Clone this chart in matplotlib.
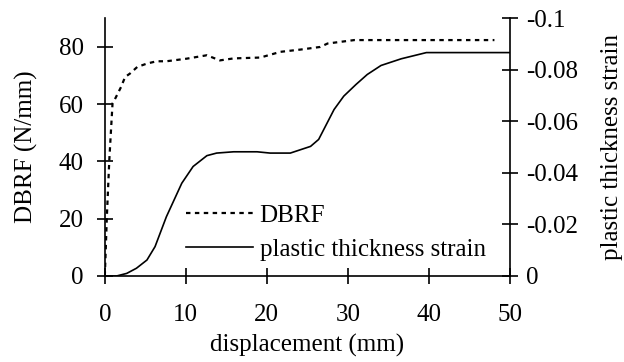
import matplotlib
matplotlib.use("Agg")
import matplotlib.pyplot as plt

# DBRF (left axis, N/mm) vs displacement (mm)
dbrf_x = [0, 0.25, 0.55, 0.95, 1.2, 2.0, 2.5, 3.1, 4.0, 5.2, 6.4, 7.6, 10.1,
          12.6, 14.2, 15.9, 19.2, 21.7, 24.2, 26.6, 27.5, 30.8, 48.1]
dbrf_y = [0, 20.7, 40.4, 60.3, 61.5, 66, 69.5, 70.7, 73, 74.2, 75, 75, 75.9,
          77.1, 75.3, 76, 76.3, 78.3, 79.1, 80, 81.2, 82.4, 82.4]

# plastic thickness strain (right axis)
strain_x = [0, 1.45, 2.7, 3.9, 5.2, 6.2, 7.6, 9.5, 10.9, 12.6, 13.8, 15.9,
            18.8, 20.4, 22.9, 25.4, 26.4, 28.3, 29.5, 31.0, 32.4, 34.1, 36.6,
            39.7, 50]
strain_y = [0, 0, -0.001, -0.003, -0.0062, -0.0114, -0.023, -0.036, -0.0425,
            -0.0467, -0.0477, -0.0482, -0.0482, -0.0477, -0.0477, -0.0503,
            -0.053, -0.0646, -0.0698, -0.0743, -0.0782, -0.0817, -0.0843,
            -0.0867, -0.0867]

left_ticks = [0, 20, 40, 60, 80]
right_ticks = [0, -0.02, -0.04, -0.06, -0.08, -0.1]
right_labels = ["0", "-0.02", "-0.04", "-0.06", "-0.08", "-0.1"]
x_ticks = [0, 10, 20, 30, 40, 50]

plt.rcParams["font.family"] = ["Liberation Serif", "DejaVu Serif"]
plt.rcParams["font.size"] = 18

fig = plt.figure(figsize=(6.24, 3.62), dpi=100)
ax = fig.add_axes([0.168, 0.2376, 0.649, 0.7118])
ax2 = ax.twinx()

l1, = ax.plot(dbrf_x, dbrf_y, color="black", linewidth=1.6,
              linestyle=(0, (2, 2)), label="DBRF")
l2, = ax2.plot(strain_x, strain_y, color="black", linewidth=1.2,
               label="plastic thickness strain")

ax.set_xlim(0, 50)
ax.set_ylim(0, 90)
ax.set_xticks(x_ticks)
ax.set_yticks(left_ticks)
ax2.set_ylim(0, -0.1)
ax2.set_yticks(right_ticks)
ax2.set_yticklabels(right_labels)

for a in (ax, ax2):
    a.spines["top"].set_visible(False)
    for s in a.spines.values():
        s.set_linewidth(1.2)
    a.tick_params(direction="inout", length=12, width=1.2)
ax.spines["right"].set_visible(False)
ax2.spines["left"].set_visible(False)
ax2.spines["bottom"].set_visible(False)
ax.tick_params(axis="x", pad=14)
ax.tick_params(axis="y", pad=9)
ax2.tick_params(axis="y", pad=6)

ax.set_xlabel("displacement (mm)", labelpad=6)
ax.set_ylabel("DBRF (N/mm)", labelpad=15)
ax2.set_ylabel("plastic thickness strain", labelpad=16)

ax.legend([l1, l2], ["DBRF", "plastic thickness strain"], loc="lower left",
          bbox_to_anchor=(0.2, 0.06), frameon=False, handlelength=2.7,
          handletextpad=0.25, labelspacing=0.45, borderpad=0, borderaxespad=0)

plt.savefig("out.png", dpi=100)
